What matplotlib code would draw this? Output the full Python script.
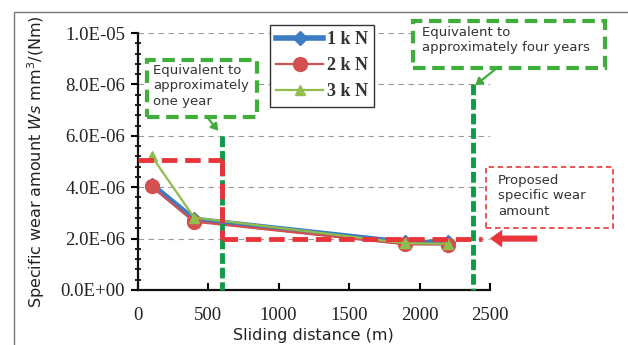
import matplotlib
matplotlib.use("Agg")
import matplotlib.pyplot as plt
from matplotlib.patches import Rectangle, FancyArrowPatch
from matplotlib.lines import Line2D
from matplotlib.ticker import MultipleLocator, FuncFormatter

# ---- data ----
distance = [100, 400, 1900, 2200]
wear_1kN = [4.10e-6, 2.75e-6, 1.85e-6, 1.85e-6]
wear_2kN = [4.03e-6, 2.66e-6, 1.78e-6, 1.77e-6]
wear_3kN = [5.20e-6, 2.82e-6, 1.82e-6, 1.80e-6]
series_labels = ["1 k N", "2 k N", "3 k N"]
x_ticks = [0, 500, 1000, 1500, 2000, 2500]
y_ticks = [0, 2e-6, 4e-6, 6e-6, 8e-6, 1e-5]
one_year_x = 600
four_year_x = 2380
target_wear = 2.0e-6
initial_wear = 5.05e-6
target_end_x = 2440

W, H = 628, 345
fig = plt.figure(figsize=(W / 100, H / 100), dpi=100)
fig.patch.set_facecolor("white")

def fx(px):
    return px / W

def fy(py):
    return 1 - py / H

# outer frame (only top and left edges visible)
fig.add_artist(Line2D([fx(13.5), fx(13.5), 1.0], [0.0, fy(11.5), fy(11.5)],
                      transform=fig.transFigure, color="#777777", lw=1.0))

ax = fig.add_axes([fx(137.7), fy(290), fx(490) - fx(137.7), fy(33) - fy(290)])
ax.set_xlim(0, 2500)
ax.set_ylim(0, 1e-5)

for s in ["top", "right"]:
    ax.spines[s].set_visible(False)
for s in ["left", "bottom"]:
    ax.spines[s].set_linewidth(1.6)
    ax.spines[s].set_color("#111111")

ax.set_xticks(x_ticks)
ax.set_yticks(y_ticks)
ax.yaxis.set_minor_locator(MultipleLocator(0.4e-6))
ax.yaxis.set_major_formatter(FuncFormatter(lambda v, p: "%.1E" % v))
ax.tick_params(axis="y", which="major", direction="out", length=5, width=1.5, pad=4)
ax.tick_params(axis="y", which="minor", direction="inout", length=5, width=1.2)
ax.tick_params(axis="x", which="major", direction="in", length=5, width=1.5, pad=12)
for lab in ax.get_xticklabels() + ax.get_yticklabels():
    lab.set_fontfamily("Liberation Serif")
    lab.set_fontsize(13.5)
    lab.set_color("#222222")

ax.grid(axis="y", which="major", linestyle=(0, (5, 4)), color="#9a9a9a", lw=0.8)
ax.set_axisbelow(True)

ax.set_xlabel("Sliding distance (m)", fontsize=11.5, family="DejaVu Sans", color="#222222", labelpad=3)
ax.set_ylabel("Specific wear amount $\\mathit{Ws}$ mm$^3$/(Nm)", fontsize=11.5,
              family="DejaVu Sans", color="#222222", labelpad=10)

# series
l1, = ax.plot(distance, wear_1kN, color="#3b7cc4", lw=4, marker="D", ms=7, zorder=5)
l2, = ax.plot(distance, wear_2kN, color="#d2504f", lw=1.6, marker="o", ms=10, zorder=6)
l3, = ax.plot(distance, wear_3kN, color="#8fbe4f", lw=1.6, marker="^", ms=7, zorder=7)

leg = ax.legend([l1, l2, l3], series_labels, loc="upper left",
                bbox_to_anchor=((270 - 137.7) / (490 - 137.7), (290 - 25) / (290 - 33)),
                prop={"family": "Liberation Serif", "size": 13, "weight": "bold"},
                frameon=True, fancybox=False, edgecolor="#333333", framealpha=1,
                handlelength=2.6, handletextpad=0.2, labelspacing=0.5,
                borderpad=0.35, borderaxespad=0)
leg.get_frame().set_linewidth(1.0)
leg.set_zorder(10)
for t in leg.get_texts():
    t.set_color("#333333")

# red dashed guide lines
red = "#e8343a"
dash = (0, (3.2, 1.6))
ax.plot([0, one_year_x], [initial_wear, initial_wear], color=red, lw=3.5, linestyle=dash, zorder=8, clip_on=False)
ax.plot([one_year_x, one_year_x], [initial_wear, target_wear], color=red, lw=3.5, linestyle=dash, zorder=8)
ax.plot([one_year_x, target_end_x], [target_wear, target_wear], color=red, lw=3.5, linestyle=dash, zorder=8)

# green vertical lines
dgreen = "#0f9a47"
ax.plot([one_year_x, one_year_x], [6e-6, 0], color=dgreen, lw=3.5, linestyle=(0, (2.2, 0.8)), zorder=7.5, clip_on=False)
ax.plot([four_year_x, four_year_x], [8e-6, 0], color=dgreen, lw=3.5, linestyle=(0, (2.2, 0.8)), zorder=7.5, clip_on=False)

# red arrow
ax.add_patch(FancyArrowPatch((2855, target_wear), (2480, target_wear),
                             arrowstyle="simple,head_length=1.1,head_width=1.6,tail_width=0.55",
                             mutation_scale=8, color=red, lw=0, clip_on=False, zorder=9))

# annotation boxes (figure pixel coordinates)
lgreen = "#3fae3a"
def box(x0, y0, x1, y1, color, lw, ls):
    fig.add_artist(Rectangle((fx(x0), fy(y1)), fx(x1) - fx(x0), fy(y0) - fy(y1),
                             transform=fig.transFigure, fill=True, facecolor="white",
                             edgecolor=color, lw=lw, linestyle=ls, zorder=20))

box(147, 60, 257, 117, lgreen, 3, (0, (3, 1.6)))
fig.text(fx(153), fy(64), "Equivalent to\napproximately\none year", ha="left", va="top",
         fontsize=9.5, family="DejaVu Sans", color="#333333", linespacing=1.25, zorder=21)
box(413, 21, 605, 68, lgreen, 3, (0, (3, 1.6)))
fig.text(fx(422), fy(26), "Equivalent to\napproximately four years", ha="left", va="top",
         fontsize=9.5, family="DejaVu Sans", color="#333333", linespacing=1.25, zorder=21)
box(486, 167, 613, 228, "#e84646", 1.3, (0, (3, 2)))
fig.text(fx(498), fy(174), "Proposed\nspecific wear\namount", ha="left", va="top",
         fontsize=9.5, family="DejaVu Sans", color="#333333", linespacing=1.25, zorder=21)

fig.add_artist(FancyArrowPatch((fx(207), fy(117)), (fx(220), fy(133)), transform=fig.transFigure,
                               arrowstyle="-|>,head_length=4,head_width=2.5", color=lgreen, lw=1.6, zorder=19))
fig.add_artist(FancyArrowPatch((fx(497), fy(68)), (fx(473), fy(87)), transform=fig.transFigure,
                               arrowstyle="-|>,head_length=4,head_width=2.5", color=lgreen, lw=1.6, zorder=19))

fig.savefig("out.png", dpi=100, facecolor="white")
